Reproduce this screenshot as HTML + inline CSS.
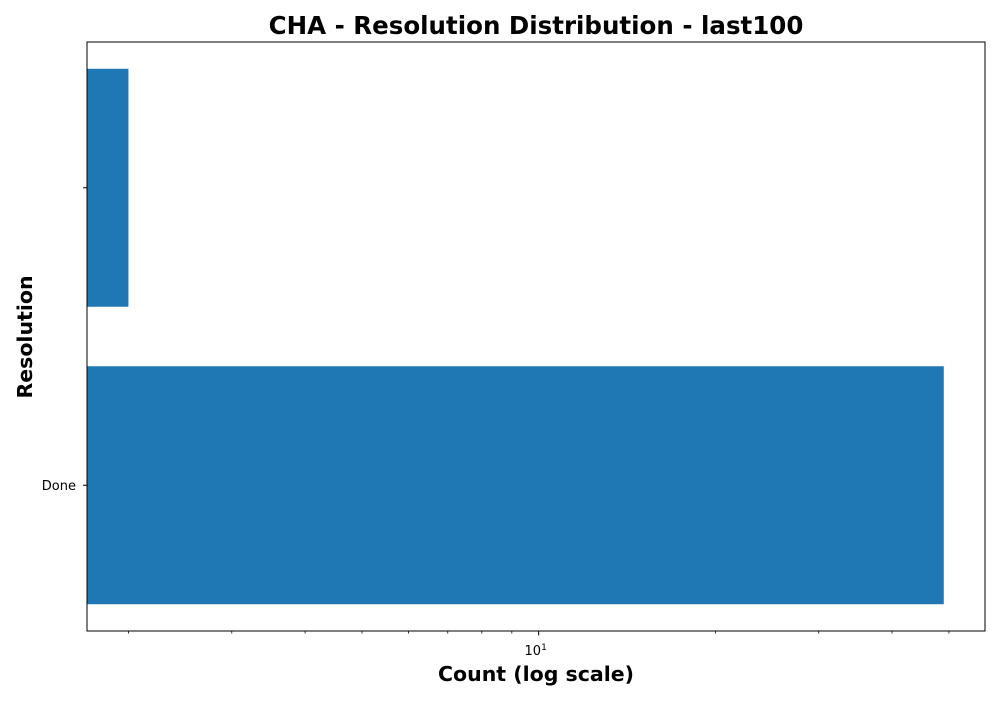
<!DOCTYPE html>
<html><head><meta charset="utf-8"><style>
html,body{margin:0;padding:0;background:#fff;}
svg text{font-family:"DejaVu Sans","Liberation Sans",sans-serif;}
</style></head><body>
<svg id="chart" width="1000" height="700" xmlns="http://www.w3.org/2000/svg">
<rect x="0" y="0" width="1000" height="700" fill="#fff"/>
<text x="536" y="34" text-anchor="middle" font-size="24.5" font-weight="bold">CHA - Resolution Distribution - last100</text>
<text x="536" y="681" text-anchor="middle" font-size="20.5" font-weight="bold">Count (log scale)</text>
<text transform="translate(32,337) rotate(-90)" text-anchor="middle" font-size="20.5" font-weight="bold">Resolution</text>
<g id="bars"></g>
<g id="axes"></g>
</svg>
<script>
const categories = ["Done", ""];
const counts = [49, 2];
const majorTicks = [10];
const minorTicks = [2,3,4,5,6,7,8,9,20,30,40,50];

const L = 87, R = 985, T = 42, B = 631;
const xMin = 1.70, xMax = 57.6;
function xScale(v){ return L + (Math.log10(v) - Math.log10(xMin)) / (Math.log10(xMax) - Math.log10(xMin)) * (R - L); }
const n = categories.length;
const m = 0.49;
const band = (B - T) / (n - 1 + 2 * m);
function yScale(i){ return B - band * m - i * band; }
const NS = "http://www.w3.org/2000/svg";
const bars = document.getElementById('bars');
const axes = document.getElementById('axes');
function mk(tag, attrs, parent){ const e = document.createElementNS(NS, tag); for (const k in attrs) e.setAttribute(k, attrs[k]); parent.appendChild(e); return e; }

counts.forEach((c, i) => {
  const yc = yScale(i), h = band * 0.8;
  const r = mk('rect', {x: L, y: yc - h/2, width: xScale(c) - L, height: h, fill: '#1f77b4'}, bars);
  
  
  const t = mk('line', {x1: L - 4, x2: L, y1: yc, y2: yc, stroke: '#000', 'stroke-width': 1}, axes);
  
  
  const lab = mk('text', {x: L - 11, y: yc + 5, 'text-anchor': 'end', 'font-size': 13}, axes);
  lab.textContent = categories[i];
  
  
});
minorTicks.forEach(v => {
  const x = xScale(v); if (x < L || x > R) return;
  const t = mk('line', {x1: x, x2: x, y1: B, y2: B + 2.5, stroke: '#000', 'stroke-width': 0.8}, axes);
  
  
});
majorTicks.forEach(v => {
  const x = xScale(v);
  const t = mk('line', {x1: x, x2: x, y1: B, y2: B + 4.5, stroke: '#000', 'stroke-width': 1}, axes);
  
  
  const lab = mk('text', {x: x - 3, y: B + 24, 'text-anchor': 'middle', 'font-size': 13}, axes);
  lab.textContent = '10';
  const sup = mk('tspan', {dy: -5, 'font-size': 9}, lab);
  sup.textContent = String(Math.round(Math.log10(v)));
  
  
});
const frame = mk('rect', {x: L, y: T, width: R - L, height: B - T, fill: 'none', stroke: '#000', 'stroke-width': 1}, axes);


</script>
</body></html>
